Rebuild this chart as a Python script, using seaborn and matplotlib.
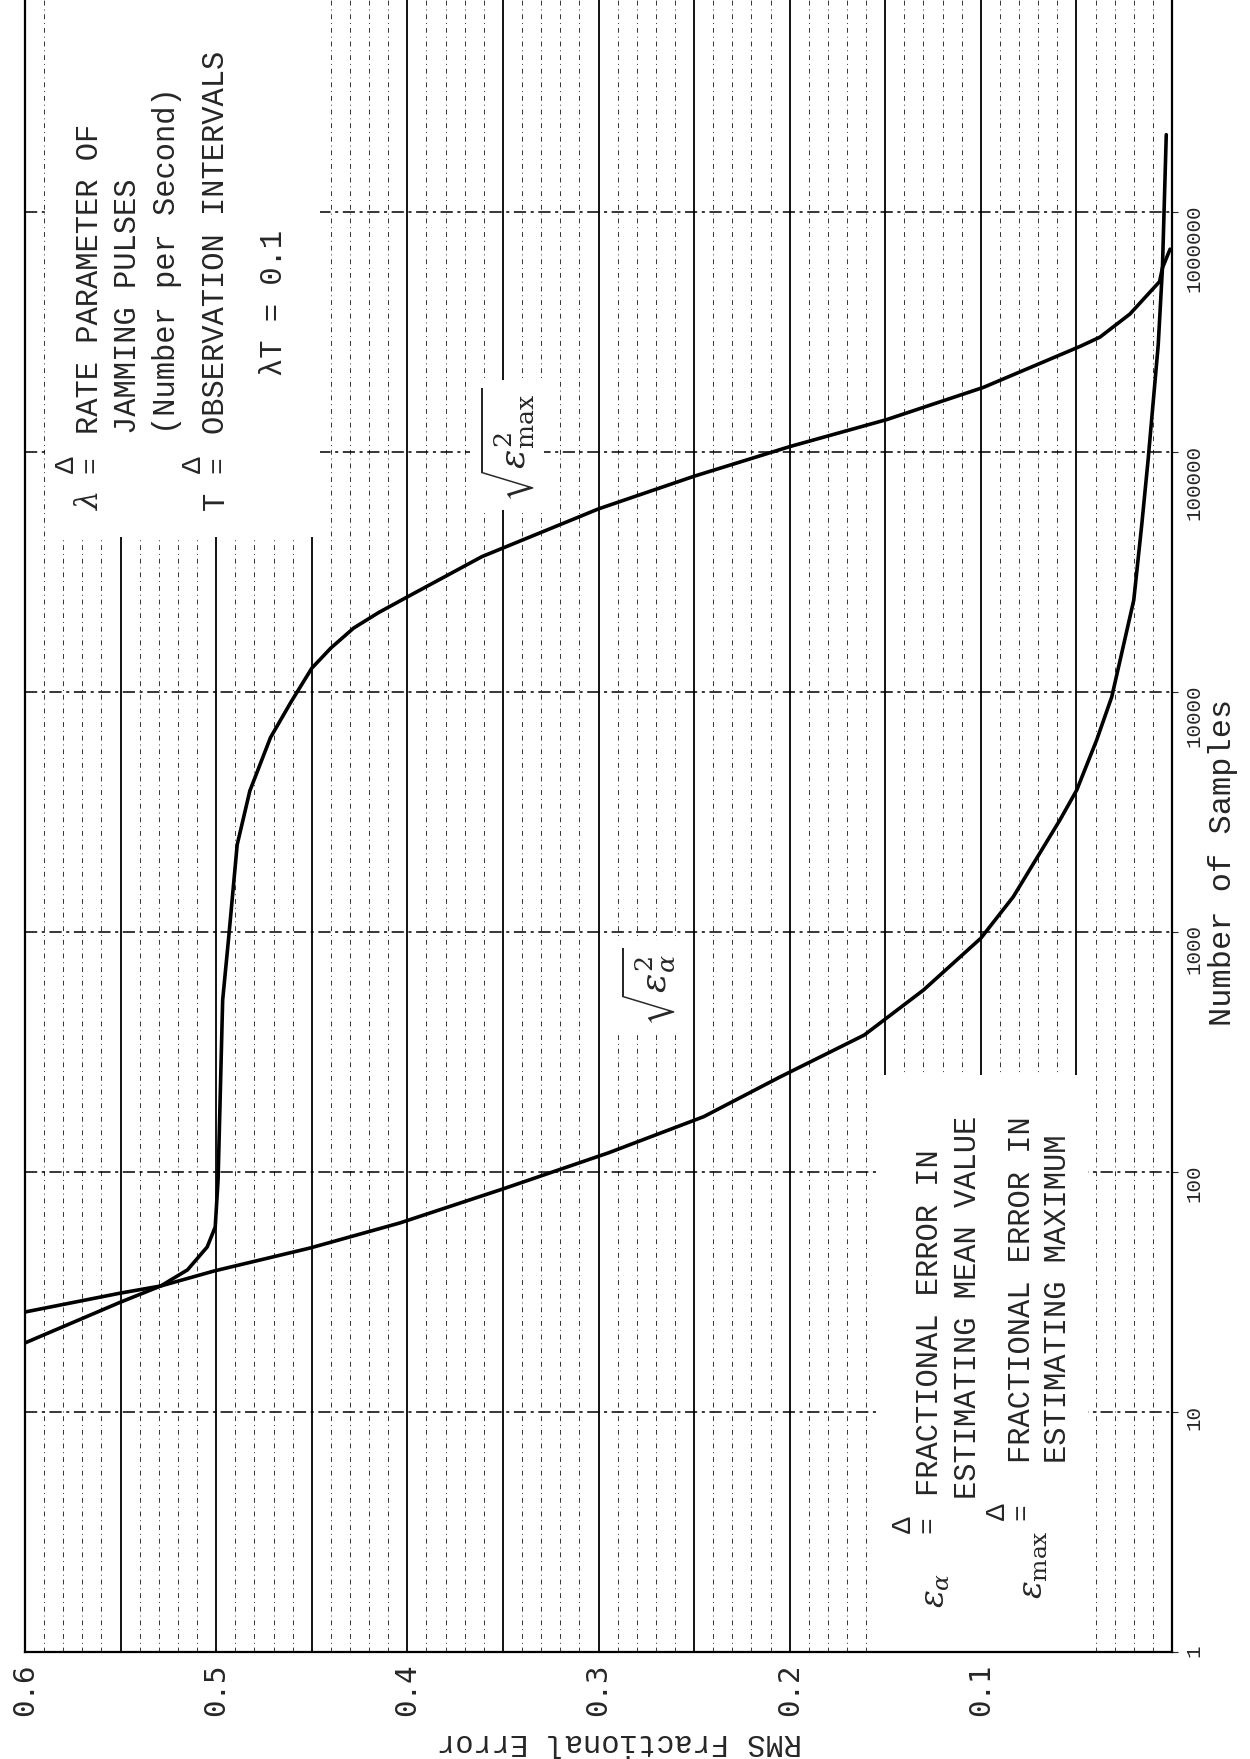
import matplotlib
matplotlib.use("Agg")
import matplotlib.pyplot as plt
import seaborn as sns
from matplotlib.patches import Rectangle
from matplotlib.ticker import NullLocator

# values
n_alpha = [19.4, 28.7, 33.5, 38.7, 48.2, 61.3, 85, 120, 170, 249, 372, 573, 942, 1403,
           2931, 3908, 6310, 9550, 24150, 50000, 92700, 280000, 585000, 2100000]
eps_alpha = [0.600, 0.550, 0.529, 0.501, 0.451, 0.404, 0.350, 0.295, 0.245, 0.205,
             0.161, 0.130, 0.100, 0.083, 0.0586, 0.0498, 0.0394, 0.0315, 0.0200,
             0.0158, 0.0125, 0.0072, 0.005, 0.003]

n_max = [26.1, 31.3, 33.5, 39.1, 48.7, 59, 92.7, 521, 977, 2312, 3870, 6457, 9100,
         12560, 15250, 18490, 21430, 24900, 29580, 36640, 57940, 79250, 105400,
         136500, 185800, 275400, 301000, 375800, 512900, 585000, 700000]
eps_max = [0.600, 0.550, 0.529, 0.515, 0.5047, 0.5005, 0.499, 0.4966, 0.4933, 0.489,
           0.4824, 0.4716, 0.4608, 0.450, 0.440, 0.428, 0.415, 0.400, 0.3826, 0.361,
           0.300, 0.250, 0.1998, 0.1492, 0.0987, 0.0481, 0.0377, 0.022, 0.0065,
           0.005, 0.001]

err_ticks = [0.6, 0.5, 0.4, 0.3, 0.2, 0.1]
n_ticks = [1, 10, 100, 1000, 10000, 100000, 1000000]

sns.set_style("white")
plt.rcParams["font.family"] = ["Liberation Mono", "DejaVu Sans"]
plt.rcParams["mathtext.fontset"] = "dejavuserif"

W, H = 1250, 1759
fig = plt.figure(figsize=(W / 100, H / 100), dpi=100)
ax = fig.add_axes([25 / W, 1 - 1652 / H, (1172 - 25) / W, 1652 / H])


def fx(px):
    return px / W


def fy(py):
    return 1 - py / H


ax.set_yscale("log")
ax.set_xlim(0.6, 0.0)
ax.set_ylim(1, 10 ** (1652 / 240))

# graph paper
for i in range(1, 60):
    v = i / 100
    if i % 5 == 0:
        ax.axvline(v, color="black", lw=1.3, zorder=1)
    else:
        ax.axvline(v, color="black", lw=0.7, ls=(0, (5, 4, 1, 4)), alpha=0.8, zorder=1)
for k in range(1, 7):
    ax.axhline(10 ** k, color="black", lw=1.1, ls=(0, (8, 3, 2, 3)), zorder=1)

# white areas behind the annotations
for x0, y0, x1, y1 in [(45, 0, 320, 537), (880, 1075, 1088, 1652)]:
    ax.add_patch(Rectangle((fx(x0), fy(y1)), fx(x1) - fx(x0), fy(y0) - fy(y1),
                           transform=fig.transFigure, facecolor="white",
                           edgecolor="none", zorder=2, clip_on=False))

sns.lineplot(x=eps_alpha, y=n_alpha, sort=False, estimator=None, color="black",
             linewidth=2.6, ax=ax, zorder=5)
sns.lineplot(x=eps_max, y=n_max, sort=False, estimator=None, color="black",
             linewidth=2.6, ax=ax, zorder=5)

ax.set_xticks(err_ticks)
ax.set_xticklabels([f"{v:.1f}" for v in err_ticks])
ax.set_yticks(n_ticks)
ax.set_yticklabels([str(v) for v in n_ticks])
ax.yaxis.set_minor_locator(NullLocator())
ax.yaxis.tick_right()
ax.tick_params(axis="y", which="major", labelrotation=90, pad=5, length=4,
               labelsize=15, direction="out")
ax.tick_params(axis="x", labelrotation=90, pad=8, length=0, labelsize=21)
for lbl in ax.get_xticklabels():
    lbl.set_fontfamily("DejaVu Sans Mono")

for side in ["left", "bottom", "right"]:
    ax.spines[side].set_color("black")
    ax.spines[side].set_linewidth(1.6)
ax.spines["top"].set_visible(False)
ax.set_xlabel("")
ax.set_ylabel("")

fig.text(fx(1223), fy(862), "Number of Samples", rotation=90, ha="center",
         va="center", fontsize=23)
fig.text(fx(620), fy(1742), "RMS Fractional Error", rotation=180, ha="center",
         va="center", fontsize=22)


def rtext(x, y, s, size=22, **kw):
    fig.text(fx(x), fy(y), s, rotation=90, rotation_mode="anchor", ha="left",
             va="center", fontsize=size, **kw)


def ctext(x, y, s, size=22, **kw):
    fig.text(fx(x), fy(y), s, rotation=90, ha="center", va="center",
             fontsize=size, **kw)


def defeq(x, y):
    # delta written above the equals sign
    ctext(x, y, "Δ\n=", size=20, linespacing=0.95, multialignment="center")


# definitions, upper box
ctext(90, 501, r"$\lambda$")
defeq(79, 465)
rtext(90, 434, "RATE PARAMETER OF")
rtext(128, 434, "JAMMING PULSES")
rtext(167, 434, "(Number per Second)")
ctext(216, 501, "T")
defeq(206, 465)
rtext(216, 434, "OBSERVATION INTERVALS")
rtext(274, 376, "λT = 0.1")

# definitions, lower box
ctext(937, 1590, r"$\epsilon_{\alpha}$", size=24)
defeq(916, 1525)
rtext(930, 1496, "FRACTIONAL ERROR IN")
rtext(968, 1499, "ESTIMATING MEAN VALUE")
ctext(1035, 1565, r"$\epsilon_{\rm max}$", size=24)
defeq(1010, 1512)
rtext(1022, 1463, "FRACTIONAL ERROR IN")
rtext(1058, 1463, "ESTIMATING MAXIMUM")

# curve labels
ctext(648, 987, r"$\sqrt{\epsilon_{\alpha}^{2}}$", size=26,
      bbox=dict(facecolor="white", edgecolor="none", pad=6))
ctext(507, 445, r"$\sqrt{\epsilon_{\rm max}^{2}}$", size=26,
      bbox=dict(facecolor="white", edgecolor="none", pad=6))

fig.savefig("out.png", dpi=100)
